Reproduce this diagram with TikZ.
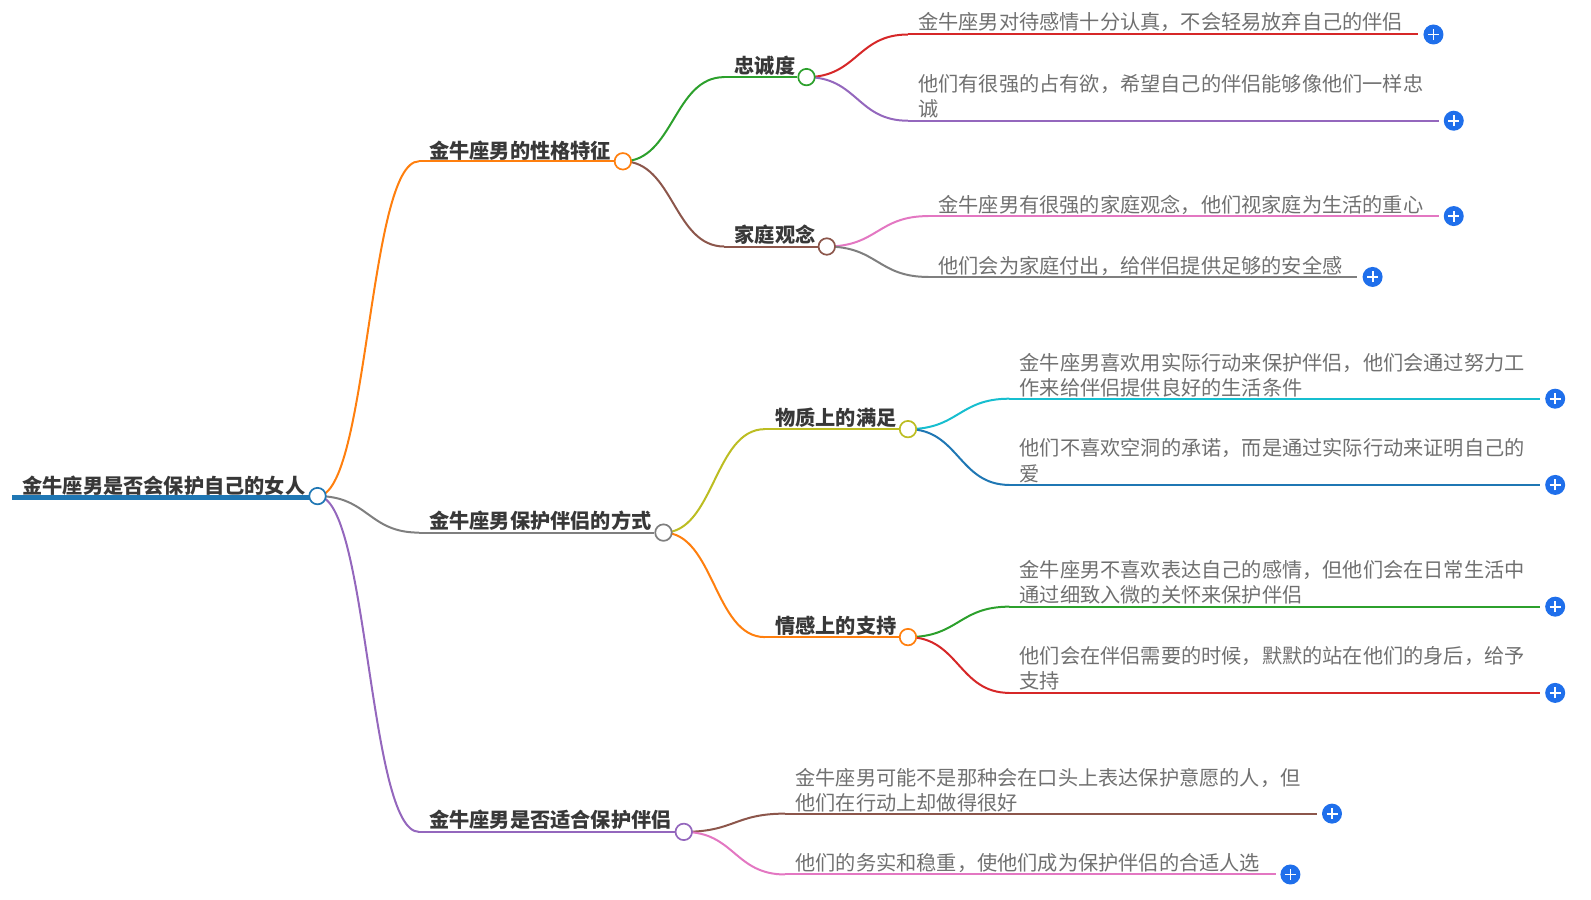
\documentclass[tikz,border=0pt]{standalone}
\usepackage{fontspec}
\setmainfont{Noto Sans CJK SC}
\usetikzlibrary{backgrounds,calc}
\definecolor{cOrange}{HTML}{FF7F0E}
\definecolor{cGreen}{HTML}{2CA02C}
\definecolor{cBrown}{HTML}{8C564B}
\definecolor{cPurple}{HTML}{9467BD}
\definecolor{cRed}{HTML}{D62728}
\definecolor{cPink}{HTML}{E377C2}
\definecolor{cGray}{HTML}{7F7F7F}
\definecolor{cOlive}{HTML}{BCBD22}
\definecolor{cCyan}{HTML}{17BECF}
\definecolor{cBlue}{HTML}{1F77B4}
\definecolor{cPlus}{HTML}{1F6FEB}
\tikzset{
  x=1.0145pt,y=-1.0145pt,
  bold/.style={font=\fontsize{20.2}{25.4}\selectfont\bfseries,text=black!78,inner sep=0pt,anchor=west,yshift=-0.5pt},
  leaf/.style={font=\fontsize{20.2}{25.4}\selectfont,text=black!56,inner sep=0pt,anchor=west,align=left,yshift=-1pt},
  dot/.style={circle,draw=#1,fill=white,line width=1.7pt,minimum size=16.5pt,inner sep=0pt},
  plusbtn/.style={circle,fill=cPlus,minimum size=20pt,inner sep=0pt,
    path picture={\draw[white,line width=1.8pt]
      ([xshift=-5.5pt]path picture bounding box.center)--([xshift=5.5pt]path picture bounding box.center)
      ([yshift=-5.5pt]path picture bounding box.center)--([yshift=5.5pt]path picture bounding box.center);}},
  conn/.style={draw=#1,line width=2pt},
}
% \linkc{from}{to}{colour}: S-curve from node "from" to coordinate "to"
\newcommand{\linkc}[3]{\draw[conn=#3] (#1.center) .. controls ($(#1.center)!0.5!(#1.center -| #2)$) and ($(#2)!0.5!(#2 -| #1.center)$) .. (#2);}
\begin{document}
\begin{tikzpicture}
\useasboundingbox (0,0) rectangle (1568.3,887.1);
% junction dots
\node[dot=cBlue] (root) at (313,489) {};
\node[dot=cOrange] (a) at (614,159) {};
\node[dot=cGray] (b) at (654,525) {};
\node[dot=cPurple] (c) at (674,820) {};
\node[dot=cGreen] (a1) at (795,76) {};
\node[dot=cBrown] (a2) at (815,243) {};
\node[dot=cOlive] (b1) at (895,423) {};
\node[dot=cOrange] (b2) at (895,628) {};
% labels
\node[bold] (t0) at (22,478) {金牛座男是否会保护自己的女人};
\node[bold] (ta) at (423,148) {金牛座男的性格特征};
\node[bold] (tb) at (423,513) {金牛座男保护伴侣的方式};
\node[bold] (tc) at (423,808) {金牛座男是否适合保护伴侣};
\node[bold] (ta1) at (724,64) {忠诚度};
\node[bold] (ta2) at (724,231) {家庭观念};
\node[bold] (tb1) at (764,411) {物质上的满足};
\node[bold] (tb2) at (764,616) {情感上的支持};
\node[leaf] (l1) at (905,21) {金牛座男对待感情十分认真，不会轻易放弃自己的伴侣};
\node[leaf] (l2) at (905,94) {他们有很强的占有欲，希望自己的伴侣能够像他们一样忠\\诚};
\node[leaf] (l3) at (925,201) {金牛座男有很强的家庭观念，他们视家庭为生活的重心};
\node[leaf] (l4) at (925,261) {他们会为家庭付出，给伴侣提供足够的安全感};
\node[leaf] (l5) at (1005,369) {金牛座男喜欢用实际行动来保护伴侣，他们会通过努力工\\作来给伴侣提供良好的生活条件};
\node[leaf] (l6) at (1005,453) {他们不喜欢空洞的承诺，而是通过实际行动来证明自己的\\爱};
\node[leaf] (l7) at (1005,573) {金牛座男不喜欢表达自己的感情，但他们会在日常生活中\\通过细致入微的关怀来保护伴侣};
\node[leaf] (l8) at (1005,658) {他们会在伴侣需要的时候，默默的站在他们的身后，给予\\支持};
\node[leaf] (l9) at (784,778) {金牛座男可能不是那种会在口头上表达保护意愿的人，但\\他们在行动上却做得很好};
\node[leaf] (l10) at (784,850) {他们的务实和稳重，使他们成为保护伴侣的合适人选};
% expand buttons
\node[plusbtn] (p1) at (1413,34) {};
\node[plusbtn] (p2) at (1433,119) {};
\node[plusbtn] (p3) at (1433,213) {};
\node[plusbtn] (p4) at (1353,273) {};
\node[plusbtn] (p5) at (1533,393) {};
\node[plusbtn] (p6) at (1533,478) {};
\node[plusbtn] (p7) at (1533,598) {};
\node[plusbtn] (p8) at (1533,683) {};
\node[plusbtn] (p9) at (1313,802) {};
\node[plusbtn] (p10) at (1272,862) {};
% free line ends
\coordinate (s0) at (12,490);
\coordinate (sa) at (413,159);
\coordinate (sb) at (413,525);
\coordinate (sc) at (413,820);
\coordinate (sa1) at (714,76);
\coordinate (sa2) at (714,243);
\coordinate (sb1) at (754,423);
\coordinate (sb2) at (754,628);
\coordinate (s1) at (895,34);
\coordinate (s2) at (895,119);
\coordinate (s3) at (915,213);
\coordinate (s4) at (915,273);
\coordinate (s5) at (995,393);
\coordinate (s6) at (995,478);
\coordinate (s7) at (995,598);
\coordinate (s8) at (995,683);
\coordinate (s9) at (774,802);
\coordinate (s10) at (774,862);
\coordinate (e1) at (1398,34);
\coordinate (e2) at (1418,119);
\coordinate (e3) at (1418,213);
\coordinate (e4) at (1338,273);
\coordinate (e5) at (1518,393);
\coordinate (e6) at (1518,478);
\coordinate (e7) at (1518,598);
\coordinate (e8) at (1518,683);
\coordinate (e9) at (1298,802);
\coordinate (e10) at (1258,862);
\begin{scope}[on background layer]
\draw[conn=cBlue,line width=5pt] (s0) -- (s0 -| root);
\linkc{root}{sa}{cOrange} \draw[conn=cOrange] (sa) -- (a);
\linkc{root}{sb}{cGray} \draw[conn=cGray] (sb) -- (b);
\linkc{root}{sc}{cPurple} \draw[conn=cPurple] (sc) -- (c);
\linkc{a}{sa1}{cGreen} \draw[conn=cGreen] (sa1) -- (a1);
\linkc{a}{sa2}{cBrown} \draw[conn=cBrown] (sa2) -- (a2);
\linkc{b}{sb1}{cOlive} \draw[conn=cOlive] (sb1) -- (b1);
\linkc{b}{sb2}{cOrange} \draw[conn=cOrange] (sb2) -- (b2);
\linkc{a1}{s1}{cRed} \draw[conn=cRed] (s1) -- (e1);
\linkc{a1}{s2}{cPurple} \draw[conn=cPurple] (s2) -- (e2);
\linkc{a2}{s3}{cPink} \draw[conn=cPink] (s3) -- (e3);
\linkc{a2}{s4}{cGray} \draw[conn=cGray] (s4) -- (e4);
\linkc{b1}{s5}{cCyan} \draw[conn=cCyan] (s5) -- (e5);
\linkc{b1}{s6}{cBlue} \draw[conn=cBlue] (s6) -- (e6);
\linkc{b2}{s7}{cGreen} \draw[conn=cGreen] (s7) -- (e7);
\linkc{b2}{s8}{cRed} \draw[conn=cRed] (s8) -- (e8);
\linkc{c}{s9}{cBrown} \draw[conn=cBrown] (s9) -- (e9);
\linkc{c}{s10}{cPink} \draw[conn=cPink] (s10) -- (e10);
\end{scope}
\end{tikzpicture}
\end{document}
